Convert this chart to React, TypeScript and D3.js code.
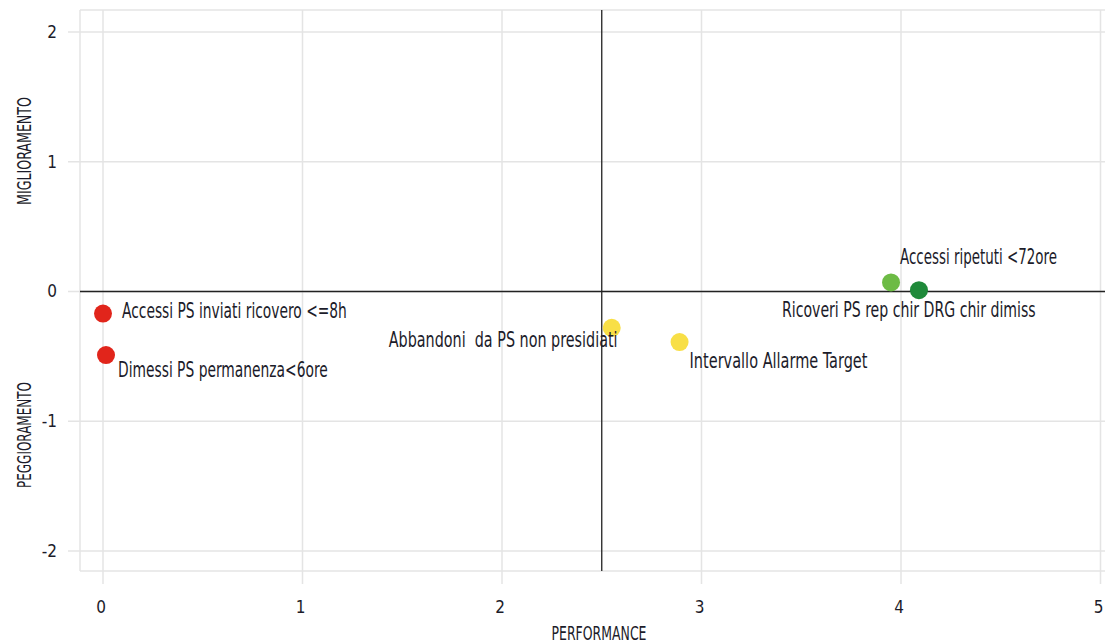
import React, { useLayoutEffect, useRef } from "react";
import * as d3 from "d3";

const labels = [
  "Accessi PS inviati ricovero <=8h",
  "Dimessi PS permanenza<6ore",
  "Abbandoni  da PS non presidiati",
  "Intervallo Allarme Target",
  "Accessi ripetuti <72ore",
  "Ricoveri PS rep chir DRG chir dimiss",
];
const perf = [0, 0.015, 2.55, 2.89, 3.95, 4.09];
const trend = [-0.17, -0.49, -0.28, -0.39, 0.07, 0.01];
const colors = ["#e1251b", "#e1251b", "#f8df46", "#f8df46", "#6dbb45", "#1f8a3a"];
const xTicks = [0, 1, 2, 3, 4, 5];
const yTicks = [-2, -1, 0, 1, 2];

// label layout (pixel offsets from the point, and fitted width)
const labelLayout = [
  { dx: 19, dy: 4, w: 225 },
  { dx: 12, dy: 22, w: 210 },
  { dx: -223, dy: 19, w: 229 },
  { dx: 10, dy: 26, w: 178 },
  { dx: 9, dy: -18, w: 157 },
  { dx: -137, dy: 27, w: 254 },
];

const W = 1105;
const H = 644;
const frame = { left: 80, top: 10, right: 1100.5, bottom: 571 };
const font = "'Liberation Sans Narrow', 'DejaVu Sans Condensed', 'Arial Narrow', sans-serif";
const textColor = "#1c1c2a";
const gridColor = "#e4e4e4";

export default function App() {
  const x = d3.scaleLinear().domain([0, 5]).range([103, 1100.5]);
  const y = d3.scaleLinear().domain([-2, 2]).range([551, 32]);
  const svgRef = useRef<SVGSVGElement>(null);

  useLayoutEffect(() => {
    if (!svgRef.current) return;
    d3.select(svgRef.current)
      .selectAll<SVGTextElement, unknown>("text.fit")
      .each(function () {
        const el = this as SVGTextElement;
        const target = +(el.getAttribute("data-w") || 0);
        const tx = +(el.getAttribute("data-x") || 0);
        const ty = +(el.getAttribute("data-y") || 0);
        const rot = el.getAttribute("data-rot");
        const natural = el.getComputedTextLength();
        const s = natural > 0 ? target / natural : 1;
        el.setAttribute(
          "transform",
          `translate(${tx},${ty})${rot ? ` rotate(${rot})` : ""} scale(${s},1)`
        );
      });
  }, []);

  return (
    <svg
      ref={svgRef}
      width={W}
      height={H}
      style={{ position: "absolute", left: 0, top: 0, background: "#fff" }}
    >
      {/* frame */}
      <line x1={frame.left} x2={W} y1={frame.top} y2={frame.top} stroke={gridColor} strokeWidth={1.5} />
      <line x1={frame.left} x2={frame.left} y1={frame.top} y2={frame.bottom} stroke={gridColor} strokeWidth={1.5} />
      <line x1={frame.left} x2={W} y1={frame.bottom} y2={frame.bottom} stroke={gridColor} strokeWidth={1.5} />

      {/* grid */}
      {xTicks.map((t) => (
        <line key={"gx" + t} x1={x(t)} x2={x(t)} y1={frame.top} y2={584} stroke={gridColor} strokeWidth={1.5} />
      ))}
      {yTicks.map((t) => (
        <line key={"gy" + t} x1={68} x2={W} y1={y(t)} y2={y(t)} stroke={gridColor} strokeWidth={1.5} />
      ))}

      {/* quadrant lines */}
      <line x1={frame.left} x2={W} y1={y(0)} y2={y(0)} stroke="#222" strokeWidth={1.3} />
      <line x1={x(2.5)} x2={x(2.5)} y1={frame.top} y2={frame.bottom} stroke="#222" strokeWidth={1.3} />

      {/* tick labels */}
      {yTicks.map((t) => (
        <text
          key={"ty" + t}
          x={57}
          y={y(t)}
          dy="0.35em"
          textAnchor="end"
          fontFamily={font}
          fontSize={17}
          fill={textColor}
        >
          {t}
        </text>
      ))}
      {xTicks.map((t) => (
        <text
          key={"tx" + t}
          x={x(t) - 2}
          y={613}
          textAnchor="middle"
          fontFamily={font}
          fontSize={17}
          fill={textColor}
        >
          {t}
        </text>
      ))}

      {/* axis titles */}
      <text
        className="fit"
        data-x={599}
        data-y={640}
        data-w={95}
        transform="translate(599,640)"
        textAnchor="middle"
        fontFamily={font}
        fontSize={19}
        fill={textColor}
      >
        PERFORMANCE
      </text>
      <text
        className="fit"
        data-x={31}
        data-y={151}
        data-rot={-90}
        data-w={108}
        transform="translate(31,151) rotate(-90)"
        textAnchor="middle"
        fontFamily={font}
        fontSize={19}
        fill={textColor}
      >
        MIGLIORAMENTO
      </text>
      <text
        className="fit"
        data-x={31}
        data-y={435}
        data-rot={-90}
        data-w={106}
        transform="translate(31,435) rotate(-90)"
        textAnchor="middle"
        fontFamily={font}
        fontSize={19}
        fill={textColor}
      >
        PEGGIORAMENTO
      </text>

      {/* points */}
      {perf.map((p, i) => (
        <circle key={"c" + i} cx={x(p)} cy={y(trend[i])} r={9} fill={colors[i]} />
      ))}

      {/* labels */}
      {labels.map((l, i) => {
        const lx = x(perf[i]) + labelLayout[i].dx;
        const ly = y(trend[i]) + labelLayout[i].dy;
        return (
          <text
            key={"l" + i}
            className="fit"
            data-x={lx}
            data-y={ly}
            data-w={labelLayout[i].w}
            transform={`translate(${lx},${ly})`}
            fontFamily={font}
            fontSize={21}
            fill={textColor}
            style={{ whiteSpace: "pre" }}
          >
            {l}
          </text>
        );
      })}
    </svg>
  );
}
